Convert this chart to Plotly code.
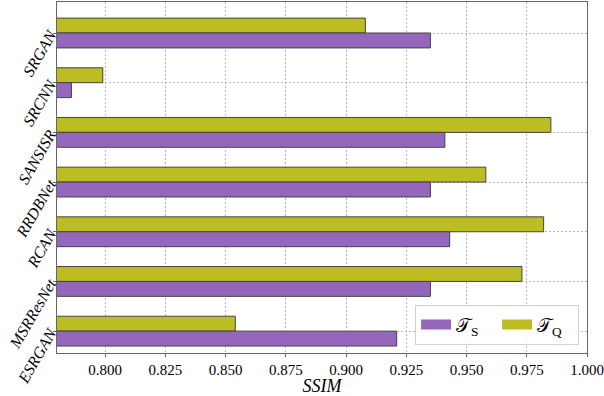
import plotly.graph_objects as go

# SSIM per model
models = ["SRGAN", "SRCNN", "SANSISR", "RRDBNet", "RCAN", "MSRResNet", "ESRGAN"]
ssim_s = [0.935, 0.786, 0.941, 0.935, 0.943, 0.935, 0.921]
ssim_q = [0.908, 0.799, 0.985, 0.958, 0.982, 0.973, 0.854]
xticks = [0.800, 0.825, 0.850, 0.875, 0.900, 0.925, 0.950, 0.975, 1.000]

purple = "#9467bd"
olive = "#bcbd22"
edge = dict(color="#444444", width=1)

fig = go.Figure()

# bars (legend drawn with separate entries below)
fig.add_trace(go.Bar(x=ssim_q, y=models, orientation="h", width=0.3, offset=-0.3,
                     marker=dict(color=olive, line=edge), showlegend=False))
fig.add_trace(go.Bar(x=ssim_s, y=models, orientation="h", width=0.3, offset=0.0,
                     marker=dict(color=purple, line=edge), showlegend=False))

# legend entries as wide patches
fig.add_trace(go.Scatter(x=[None], y=[None], mode="lines", line=dict(color=purple, width=10),
                         name="𝒯<sub>S</sub>"))
fig.add_trace(go.Scatter(x=[None], y=[None], mode="lines", line=dict(color=olive, width=10),
                         name="𝒯<sub>Q</sub>"))

fig.update_layout(
    width=604, height=396,
    margin=dict(l=57, r=17, t=2, b=43, autoexpand=False),
    plot_bgcolor="white", paper_bgcolor="white",
    barmode="overlay",
    font=dict(family="Liberation Serif", size=15, color="black"),
    legend=dict(orientation="h", x=0.985, y=0.024, xanchor="right", yanchor="bottom",
                bgcolor="rgba(255,255,255,0.85)", bordercolor="#d0d0d0", borderwidth=1,
                font=dict(size=19), itemwidth=30, entrywidthmode="pixels", entrywidth=36),
)

fig.update_xaxes(
    automargin=False,
    range=[0.78, 1.0], tickvals=xticks, tickformat=".3f",
    showgrid=True, gridcolor="#b8b8b8", griddash="2px,2px", gridwidth=1,
    showline=True, linecolor="#666666", linewidth=1, mirror=True,
    ticks="outside", ticklen=3, tickcolor="#666666",
    zeroline=False,
    title=dict(text="SSIM", font=dict(size=18, style="italic"), standoff=2),
)
fig.update_yaxes(
    automargin=False,
    range=[6.44, -0.624],
    showgrid=True, gridcolor="#b8b8b8", griddash="2px,2px", gridwidth=1,
    showline=True, linecolor="#666666", linewidth=1, mirror=True,
    ticks="outside", ticklen=3, tickcolor="#666666",
    tickangle=-60, tickfont=dict(size=16, style="italic"),
)

# drop the default 8px body margin so the figure fills the window
fig.write_html("out.html", config={"displayModeBar": False},
               post_script="document.body.style.margin='0';")
